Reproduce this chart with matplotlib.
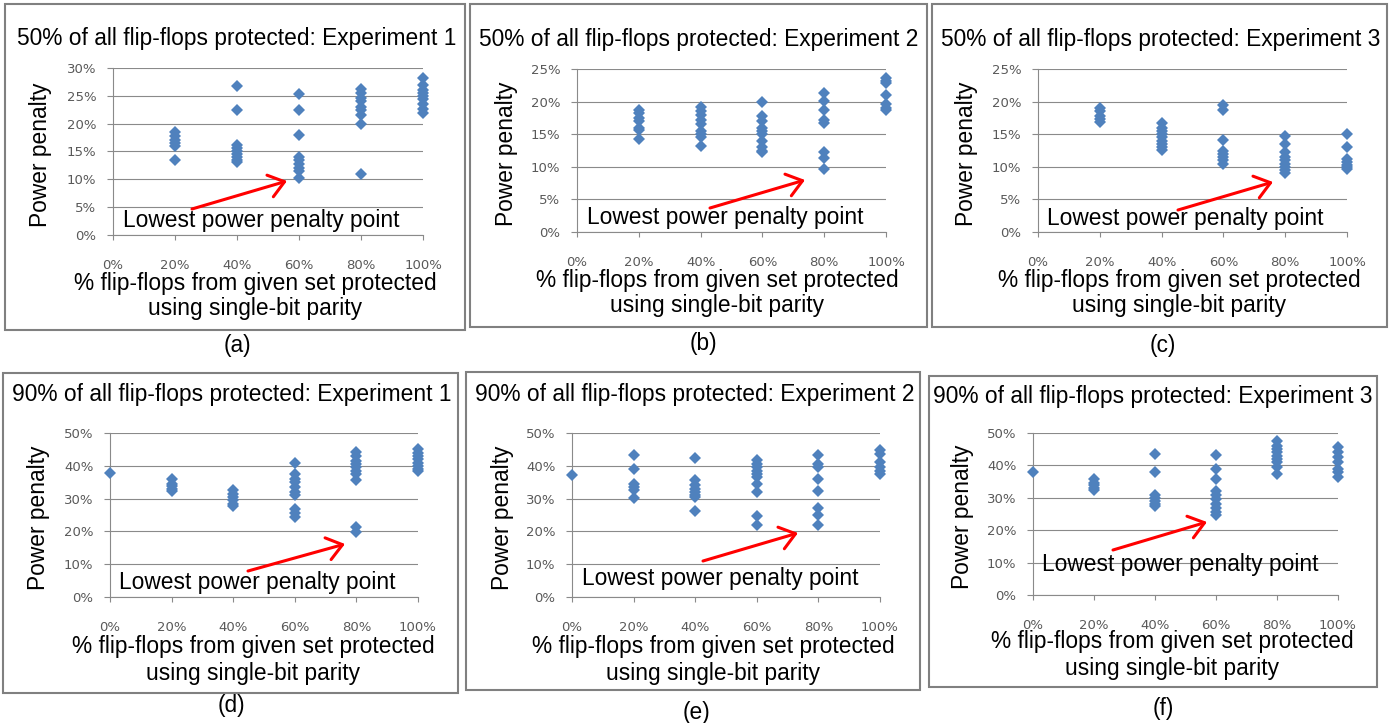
"""Power-penalty scatter panels (a)-(f): flip-flop protection experiments."""

import matplotlib

matplotlib.use("Agg")

import matplotlib.pyplot as plt
from matplotlib.patches import Rectangle
from matplotlib.ticker import FuncFormatter, MultipleLocator

W, H = 1395, 723

# x positions (% of flip-flops from given set protected)
x_levels = [0, 20, 40, 60, 80, 100]

# power penalty (%) per x level, one list per panel
p50_exp1 = [
    [],
    [18.5, 17.8, 17.0, 16.5, 16.0, 13.5],
    [26.7, 22.5, 16.2, 15.6, 15.0, 14.5, 14.0, 13.5, 13.2],
    [25.3, 22.5, 18.0, 14.0, 13.5, 12.8, 12.0, 11.5, 10.2],
    [26.3, 25.5, 24.6, 24.0, 23.0, 22.4, 21.5, 20.0, 11.0],
    [28.2, 27.0, 26.0, 25.5, 25.0, 24.4, 23.5, 22.6, 22.0],
]
p50_exp2 = [
    [],
    [18.7, 18.2, 17.5, 17.0, 16.0, 15.7, 14.3],
    [19.1, 18.5, 18.0, 17.2, 16.5, 15.5, 15.0, 14.5, 13.2],
    [20.0, 17.8, 17.0, 16.0, 15.5, 15.0, 14.0, 13.0, 12.5, 12.2],
    [21.3, 20.1, 18.7, 17.2, 16.7, 12.2, 11.3, 9.7],
    [23.6, 23.2, 22.8, 21.0, 19.6, 19.0, 18.7],
]
p50_exp3 = [
    [],
    [19.0, 18.5, 17.8, 17.3, 16.9],
    [16.7, 16.0, 15.5, 15.0, 14.5, 14.0, 13.5, 13.0, 12.6],
    [19.5, 18.7, 14.1, 12.5, 12.0, 11.5, 11.0, 10.5],
    [14.8, 13.5, 12.2, 11.5, 11.0, 10.5, 10.0, 9.5, 9.0],
    [15.0, 13.1, 11.2, 10.8, 10.3, 10.0, 9.7],
]
p90_exp1 = [
    [37.8],
    [35.9, 34.5, 33.8, 33.0, 32.3],
    [32.7, 31.5, 30.5, 29.5, 28.5, 27.7],
    [41.0, 37.6, 36.0, 35.0, 33.5, 32.0, 31.1, 26.8, 25.5, 24.4],
    [44.3, 43.0, 41.5, 40.5, 39.5, 38.5, 37.5, 35.8, 21.3, 19.7],
    [45.0, 44.0, 43.0, 42.0, 41.0, 40.0, 39.0, 38.4],
]
p90_exp2 = [
    [37.2],
    [43.2, 39.0, 34.4, 33.5, 32.6, 30.2],
    [42.5, 35.6, 34.0, 33.0, 32.0, 31.0, 30.5, 26.2],
    [41.8, 40.5, 39.5, 38.5, 37.5, 36.5, 34.3, 32.1, 24.7, 22.0],
    [43.2, 40.5, 39.7, 36.0, 32.3, 27.0, 24.9, 21.8],
    [44.7, 43.5, 41.2, 39.5, 38.5, 37.6],
]
p90_exp3 = [
    [37.9],
    [35.8, 34.5, 34.0, 33.0, 32.3],
    [43.6, 38.1, 31.0, 30.0, 29.0, 28.0, 27.5],
    [43.2, 38.8, 35.8, 32.0, 31.0, 29.5, 28.0, 27.0, 25.6, 24.8],
    [47.4, 46.0, 45.0, 44.0, 43.0, 42.0, 41.0, 39.5, 37.2],
    [45.6, 44.0, 42.6, 41.0, 39.0, 38.0, 36.3],
]

titles = [
    "50% of all flip-flops protected: Experiment 1",
    "50% of all flip-flops protected: Experiment 2",
    "50% of all flip-flops protected: Experiment 3",
    "90% of all flip-flops protected: Experiment 1",
    "90% of all flip-flops protected: Experiment 2",
    "90% of all flip-flops protected: Experiment 3",
]
captions = ["(a)", "(b)", "(c)", "(d)", "(e)", "(f)"]
y_max = [30, 25, 25, 50, 50, 50]
y_step = [5, 5, 5, 10, 10, 10]
series = [p50_exp1, p50_exp2, p50_exp3, p90_exp1, p90_exp2, p90_exp3]

# layout in image pixels (top-left origin)
LAYOUT = [
    dict(box=(5, 4, 465, 330), ax=(113, 423, 68, 235), title=(237, 45), ylab=40,
         xlab=(255, 290, 315), cap=(237, 352), note=(123, 221), arrow=((192, 209), (287, 181))),
    dict(box=(470, 4, 927, 327), ax=(577, 886, 69, 232), title=(699, 46), ylab=506,
         xlab=(717, 287, 312), cap=(703, 350), note=(587, 217), arrow=((710, 208), (805, 180))),
    dict(box=(932, 4, 1387, 327), ax=(1038, 1347, 69, 232), title=(1161, 46), ylab=966,
         xlab=(1179, 287, 312), cap=(1163, 352), note=(1047, 218), arrow=((1178, 210), (1273, 182))),
    dict(box=(3, 373, 458, 693), ax=(110, 418, 433, 597), title=(232, 401), ylab=38,
         xlab=(253, 653, 680), cap=(231, 712), note=(119, 582), arrow=((248, 571), (345, 544))),
    dict(box=(466, 372, 920, 690), ax=(572, 880, 433, 597), title=(695, 401), ylab=503,
         xlab=(713, 653, 680), cap=(697, 719), note=(582, 578), arrow=((703, 561), (798, 533))),
    dict(box=(929, 376, 1377, 687), ax=(1033, 1338, 433, 595), title=(1153, 403), ylab=962,
         xlab=(1172, 648, 675), cap=(1163, 715), note=(1042, 565), arrow=((1113, 550), (1207, 522))),
]

BIG = ["Liberation Sans", "DejaVu Sans"]
BIG_SIZE = 16.4
GRID = "#8a8a8a"
TICK_COLOR = "#595959"
MARKER = "#4F81BD"


def fx(x):
    return x / W


def fy(y):
    return 1 - y / H


fig = plt.figure(figsize=(W / 100, H / 100), dpi=100)
pct = FuncFormatter(lambda v, _: f"{v:.0f}%")

for i, lay in enumerate(LAYOUT):
    bx0, by0, bx1, by1 = lay["box"]
    fig.patches.append(Rectangle((fx(bx0), fy(by1)), fx(bx1 - bx0), (by1 - by0) / H,
                                 transform=fig.transFigure, fill=False,
                                 edgecolor="#808080", linewidth=1.5))

    ax0, ax1, ay0, ay1 = lay["ax"]
    ax = fig.add_axes([fx(ax0), fy(ay1), fx(ax1 - ax0), (ay1 - ay0) / H])
    for xv, ys in zip(x_levels, series[i]):
        ax.plot([xv] * len(ys), ys, linestyle="none", marker="D", markersize=5.8,
                color=MARKER, markeredgewidth=0, clip_on=False, zorder=3)

    ax.set_xlim(0, 100)
    ax.set_ylim(0, y_max[i])
    ax.xaxis.set_major_locator(MultipleLocator(20))
    ax.yaxis.set_major_locator(MultipleLocator(y_step[i]))
    ax.xaxis.set_major_formatter(pct)
    ax.yaxis.set_major_formatter(pct)
    ax.grid(axis="y", color=GRID, linewidth=0.8)
    ax.set_axisbelow(True)
    for side in ("top", "right"):
        ax.spines[side].set_visible(False)
    for side in ("left", "bottom"):
        ax.spines[side].set_color(GRID)
        ax.spines[side].set_linewidth(0.8)
    ax.tick_params(axis="x", length=3.5, width=0.8, color=GRID, pad=13.5,
                   labelsize=9.5, labelcolor=TICK_COLOR)
    ax.tick_params(axis="y", length=4, width=0.8, color=GRID, pad=8,
                   labelsize=9.5, labelcolor=TICK_COLOR)

    fig.text(fx(lay["title"][0]), fy(lay["title"][1]), titles[i], ha="center",
             va="baseline", family=BIG, fontsize=BIG_SIZE)
    fig.text(fx(lay["ylab"]), fy((ay0 + ay1) / 2 + 3), "Power penalty", rotation=90,
             ha="center", va="center", family=BIG, fontsize=BIG_SIZE)
    xc, l1, l2 = lay["xlab"]
    fig.text(fx(xc), fy(l1), "% flip-flops from given set protected", ha="center",
             va="baseline", family=BIG, fontsize=BIG_SIZE)
    fig.text(fx(xc), fy(l2), "using single-bit parity", ha="center",
             va="baseline", family=BIG, fontsize=BIG_SIZE)
    fig.text(fx(lay["cap"][0]), fy(lay["cap"][1]), captions[i], ha="center",
             va="baseline", family=BIG, fontsize=BIG_SIZE)

    fig.text(fx(lay["note"][0]), fy(lay["note"][1]), "Lowest power penalty point",
             ha="left", va="center", family=BIG, fontsize=BIG_SIZE, zorder=5)
    (sx, sy), (ex, ey) = lay["arrow"]
    fig.add_artist(matplotlib.patches.FancyArrowPatch(
        (fx(sx), fy(sy)), (fx(ex), fy(ey)), transform=fig.transFigure,
        arrowstyle="->,head_length=0.6,head_width=0.45", mutation_scale=18,
        color="#ff0000", linewidth=2.2, shrinkA=0, shrinkB=0, zorder=6))

fig.savefig("out.png", dpi=100, facecolor="white")
